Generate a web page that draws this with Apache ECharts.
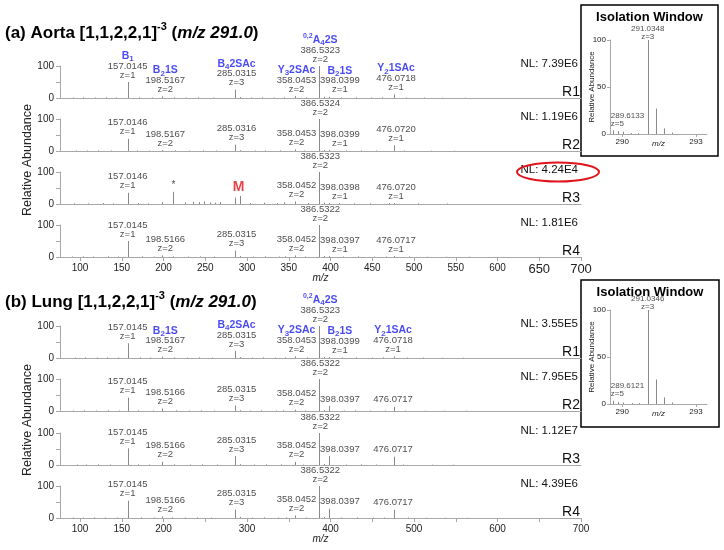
<!DOCTYPE html>
<html>
<head>
<meta charset="utf-8">
<title>[1,1,2,2,1]-3 MS2 spectra</title>
<script src="https://cdn.jsdelivr.net/npm/echarts@6/dist/echarts.min.js"></script>
<style>
  html, body { margin: 0; padding: 0; background: #fff; }
  #chart { width: 724px; height: 550px; }
</style>
</head>
<body>
<div id="chart"></div>
<script>
// tick values of the m/z axes
const mzTicks = [100, 150, 200, 250, 300, 350, 400, 450, 500, 550, 600, 650, 700];
const mzLabelsLung = [100, 150, 200, 300, 400, 500, 600, 700];
const isoTicks = [290, 293];

// labelled peaks: [m/z, relative abundance, charge (null = not printed)]
const aortaR1 = [[157.0145, 50, 1], [198.5167, 5, 2], [285.0315, 26, 3], [358.0453, 6, 2], [386.5323, 100, 2], [398.0399, 4, 1], [476.0718, 11, 1]];
const aortaR2 = [[157.0146, 38, 1], [198.5167, 3, 2], [285.0316, 20, 3], [358.0453, 5, 2], [386.5324, 100, 2], [398.0399, 3, 1], [476.0720, 18, 1]];
const aortaR3 = [[157.0146, 35, 1], [358.0452, 8, 2], [386.5323, 100, 2], [398.0398, 3, 1], [476.0720, 3, 1]];
const aortaR4 = [[157.0145, 50, 1], [198.5166, 5, 2], [285.0315, 20, 3], [358.0452, 5, 2], [386.5322, 100, 2], [398.0397, 3, 1], [476.0717, 3, 1]];
const lungR1 = [[157.0145, 46, 1], [198.5167, 4, 2], [285.0315, 22, 3], [358.0453, 5, 2], [386.5323, 100, 2], [398.0399, 3, 1], [476.0718, 5, 1]];
const lungR2 = [[157.0145, 42, 1], [198.5166, 8, 2], [285.0315, 17, 3], [358.0452, 4, 2], [386.5322, 100, 2], [398.0397, 16, null], [476.0717, 13, null]];
const lungR3 = [[157.0145, 52, 1], [198.5166, 10, 2], [285.0315, 28, 3], [358.0452, 10, 2], [386.5322, 100, 2], [398.0397, 28, null], [476.0717, 26, null]];
const lungR4 = [[157.0145, 54, 1], [198.5166, 5, 2], [285.0315, 26, 3], [358.0452, 8, 2], [386.5322, 100, 2], [398.0397, 29, null], [476.0717, 26, null]];

// fragment names per labelled peak: [superscript, letter, subscript, rest]
const fragsAorta = [['', 'B', '1', ''], ['', 'B', '2', '1S'], ['', 'B', '4', '2SAc'], ['', 'Y', '3', '2SAc'], ['0,2', 'A', '4', '2S'], ['', 'B', '2', '1S'], ['', 'Y', '2', '1SAc']];
const fragsLung = [null, ['', 'B', '2', '1S'], ['', 'B', '4', '2SAc'], ['', 'Y', '3', '2SAc'], ['0,2', 'A', '4', '2S'], ['', 'B', '2', '1S'], ['', 'Y', '2', '1SAc']];

// marked peaks in aorta R3
const aortaR3Marks = [[211.9, 38, '*'], [291.03, 25, 'M']];

// small unlabelled peaks [m/z, relative abundance]
const aortaMinor1 = [[92, 1.5], [104, 2], [118, 1.5], [131, 2], [143, 1.5], [171, 2], [186, 1.5], [212, 2], [227, 1.5], [241, 2], [259, 1.5], [291, 3], [305, 1.5], [318, 2], [332, 1.5], [344, 2], [371, 2], [392, 4], [413, 1.5], [430, 2], [449, 1.5], [462, 2], [491, 1.5], [512, 1.5], [533, 1], [561, 1]];
const aortaMinor2 = [[95, 1.5], [108, 1.5], [121, 2], [137, 1.5], [168, 2], [182, 1.5], [214, 2], [231, 1.5], [247, 2], [263, 1.5], [291, 2.5], [309, 1.5], [322, 2], [340, 2], [368, 1.5], [392, 3], [418, 1.5], [437, 2], [455, 1.5], [488, 1.5], [520, 1], [548, 1]];
const aortaMinor3 = [[93, 2], [110, 2], [127, 3], [140, 2], [170, 3], [181, 2], [198.5, 6], [226, 5], [235, 7], [243, 6], [249, 8], [256, 5], [262, 4], [268, 6], [285.03, 20], [303, 3], [320, 4], [336, 3], [344, 5], [373, 3], [392, 4], [410, 3], [428, 2], [447, 2], [470, 3], [505, 2], [540, 1.5]];
const aortaMinor4 = [[90, 1.5], [103, 2], [116, 1.5], [133, 2], [146, 1.5], [174, 2], [188, 1.5], [211, 2], [229, 1.5], [244, 2], [261, 1.5], [291, 3], [307, 1.5], [321, 2], [338, 1.5], [346, 2], [370, 1.5], [392, 3], [415, 1.5], [433, 2], [452, 1.5], [466, 1.5], [494, 1.5], [515, 1], [538, 1], [566, 1]];
const lungMinor1 = [[94, 1.5], [106, 2], [120, 1.5], [132, 2], [145, 1.5], [172, 2], [184, 1.5], [213, 2], [228, 1.5], [242, 2], [258, 1.5], [291, 3], [306, 1.5], [319, 2], [333, 1.5], [345, 2], [372, 2], [392, 3], [414, 1.5], [431, 2], [450, 1.5], [463, 2], [492, 1.5], [511, 1.5], [534, 1], [559, 1]];
const lungMinor2 = [[91, 1.5], [105, 2], [119, 1.5], [134, 2], [147, 1.5], [170, 2], [187, 1.5], [215, 2], [230, 1.5], [245, 2], [260, 1.5], [291, 2.5], [304, 1.5], [317, 2], [335, 1.5], [343, 2], [369, 1.5], [392, 3], [416, 1.5], [429, 2], [447, 1.5], [465, 1.5], [489, 1.5], [513, 1], [536, 1], [562, 1]];
const lungMinor3 = [[96, 1.5], [107, 1.5], [122, 2], [136, 1.5], [169, 2], [183, 1.5], [212, 2], [232, 1.5], [246, 2], [264, 1.5], [291, 2.5], [308, 1.5], [323, 2], [341, 2], [367, 1.5], [392, 3], [419, 1.5], [436, 2], [454, 1.5], [487, 1.5], [521, 1], [547, 1]];
const lungMinor4 = [[92, 1.5], [104, 1.5], [117, 2], [130, 1.5], [144, 1.5], [173, 2], [189, 1.5], [210, 2], [226, 1.5], [240, 2], [257, 1.5], [291, 3], [306, 1.5], [320, 2], [337, 1.5], [347, 2], [371, 1.5], [392, 3], [412, 1.5], [432, 2], [451, 1.5], [464, 1.5], [493, 1.5], [514, 1], [537, 1], [563, 1]];

// isolation windows
const isoAortaLabelled = [[289.6133, 4, 5], [291.0348, 100, 3]];
const isoAortaMinor = [[289.8133, 3], [290.0133, 2.5], [290.35, 1], [290.62, 1], [291.3681, 27], [291.7015, 6], [292.0348, 1.5]];
const isoLungLabelled = [[289.6121, 3.5, 5], [291.0346, 100, 3]];
const isoLungMinor = [[289.8121, 2], [290.0121, 1.5], [290.4, 1], [290.7, 1], [291.3679, 26], [291.7013, 7], [292.0346, 1.5]];

const nlAorta = ['NL: 7.39E6', 'NL: 1.19E6', 'NL: 4.24E4', 'NL: 1.81E6'];
const nlLung = ['NL: 3.55E5', 'NL: 7.95E5', 'NL: 1.12E7', 'NL: 4.39E6'];
const rowNames = ['R1', 'R2', 'R3', 'R4'];

const SANS = '"Liberation Sans", Arial, sans-serif';
const BLUE = '#1c1cf0';
const RED = '#e0141c';
const axisGrey = '#a8a8a8';
const stickGrey = '#8a8a8a';

const rich = {
  f: { fontFamily: SANS, fontWeight: 'bold', fontSize: 10.5, color: BLUE, lineHeight: 11 },
  sub: { fontFamily: SANS, fontWeight: 'bold', fontSize: 8, color: BLUE, lineHeight: 11, height: 5, verticalAlign: 'bottom' },
  sup: { fontFamily: SANS, fontWeight: 'bold', fontSize: 7, color: BLUE, lineHeight: 11, height: 3, verticalAlign: 'top' },
  m: { fontFamily: SANS, fontSize: 9.5, color: '#1a1a1a', lineHeight: 9 },
  star: { fontFamily: SANS, fontSize: 10, color: '#1a1a1a', lineHeight: 8 },
  red: { fontFamily: SANS, fontWeight: 'bold', fontSize: 14, color: RED, lineHeight: 12 },
  im: { fontFamily: SANS, fontSize: 8, color: '#1a1a1a', lineHeight: 8 }
};

// horizontal nudges of the peak labels (px), by nominal m/z
const shiftAorta = { 157: 0, 198: 3, 285: 2, 358: 1, 386: 1, 398: 11, 476: 2 };
const shiftLung = { 157: 0, 198: 3, 285: 2, 358: 1, 386: 1, 398: 11, 476: -1 };

function fragText(f) {
  if (!f) return '';
  let s = f[0] ? '{sup|' + f[0] + '}' : '';
  s += '{f|' + f[1] + '}{sub|' + f[2] + '}';
  if (f[3]) s += '{f|' + f[3] + '}';
  return s;
}

const grids = [], xAxes = [], yAxes = [], series = [], graphics = [];

function stickSeries(idx, data) {
  return {
    type: 'custom', xAxisIndex: idx, yAxisIndex: idx, silent: true,
    data: data.map(d => [d[0], d[1]]),
    renderItem: (params, api) => {
      const p0 = api.coord([api.value(0), 0]);
      const p1 = api.coord([api.value(0), api.value(1)]);
      const x = Math.round(p0[0]) + 0.5;
      return { type: 'line', shape: { x1: x, y1: p0[1], x2: x, y2: p1[1] }, style: { stroke: stickGrey, lineWidth: 1 } };
    }
  };
}

function labelSeries(idx, items, texts, shifts, align, dist) {
  return {
    type: 'scatter', xAxisIndex: idx, yAxisIndex: idx, silent: true,
    symbolSize: 1, itemStyle: { color: 'rgba(0,0,0,0)' },
    data: items.map((v, i) => ({ value: [v[0], v[1]], label: { offset: [shifts[i] || 0, 0] } })),
    label: {
      show: true, position: 'top', distance: dist == null ? 2 : dist, align: align || 'center',
      formatter: p => texts[p.dataIndex], rich: rich
    }
  };
}

const panels = [
  { rows: [aortaR1, aortaR2, aortaR3, aortaR4], minor: [aortaMinor1, aortaMinor2, aortaMinor3, aortaMinor4],
    frags: fragsAorta, bases: [98, 151, 204, 257], nl: nlAorta, labels: mzTicks, shift: shiftAorta },
  { rows: [lungR1, lungR2, lungR3, lungR4], minor: [lungMinor1, lungMinor2, lungMinor3, lungMinor4],
    frags: fragsLung, bases: [358, 411, 465, 518], nl: nlLung, labels: mzLabelsLung, shift: shiftLung }
];

panels.forEach((pan, pi) => {
  pan.rows.forEach((peaks, ri) => {
    const idx = grids.length;
    const base = pan.bases[ri];
    const last = ri === 3;
    grids.push({ left: 60, width: 521, top: base - 32, height: 32 });
    xAxes.push({
      type: 'value', gridIndex: idx, min: 76, max: 700,
      axisLine: { lineStyle: { color: axisGrey } },
      splitLine: { show: false },
      axisTick: { show: last, length: 4, customValues: mzTicks, lineStyle: { color: axisGrey } },
      axisLabel: {
        show: last, customValues: pan.labels, margin: 6, color: '#222',
        fontFamily: SANS, fontSize: 10,
        formatter: v => (pi === 0 && v >= 650) ? '{big|' + v + '}' : String(v),
        rich: { big: { fontFamily: SANS, fontSize: 13, color: '#222' } }
      },
      name: last ? 'm/z' : '', nameLocation: 'middle', nameGap: 16, nameMoveOverlap: false,
      nameTextStyle: { fontFamily: SANS, fontStyle: 'italic', fontSize: 10, color: '#222' }
    });
    yAxes.push({
      type: 'value', gridIndex: idx, min: 0, max: 100, interval: 50,
      axisLine: { show: true, lineStyle: { color: axisGrey } },
      axisTick: { show: true, length: 4, lineStyle: { color: axisGrey } },
      splitLine: { show: false },
      axisLabel: { margin: 6, color: '#222', fontFamily: SANS, fontSize: 10, formatter: v => v === 50 ? '' : String(v) }
    });

    let all = peaks.concat(pan.minor[ri]);
    if (pi === 0 && ri === 2) all = all.concat(aortaR3Marks);
    series.push(stickSeries(idx, all));

    const texts = peaks.map((p, i) => {
      const lines = [];
      if (ri === 0 && pan.frags[i]) lines.push(fragText(pan.frags[i]));
      lines.push('{m|' + p[0].toFixed(4) + '}');
      if (p[2] != null) lines.push('{m|z=' + p[2] + '}');
      return lines.join('\n');
    });
    const shifts = peaks.map(p => pan.shift[Math.floor(p[0])]);
    series.push(labelSeries(idx, peaks, texts, shifts));
    if (pi === 0 && ri === 2) {
      series.push(labelSeries(idx, aortaR3Marks, aortaR3Marks.map(m => m[2] === 'M' ? '{red|M}' : '{star|*}'), [0, -1]));
    }

    graphics.push({ type: 'text', x: 578, y: base - 34, style: { text: pan.nl[ri], align: 'right', verticalAlign: 'middle', font: '11.5px ' + SANS, fill: '#111' } });
    graphics.push({ type: 'text', x: 580, y: base - 6, style: { text: rowNames[ri], align: 'right', verticalAlign: 'middle', font: '14px ' + SANS, fill: '#111' } });
  });
});

// isolation window insets
const insets = [
  { labelled: isoAortaLabelled, minor: isoAortaMinor, top: 40, box: [581, 5, 137, 151] },
  { labelled: isoLungLabelled, minor: isoLungMinor, top: 310, box: [581, 280, 138, 147] }
];
insets.forEach(ins => {
  const idx = grids.length;
  grids.push({ left: 610, width: 97, top: ins.top, height: 94 });
  xAxes.push({
    type: 'value', gridIndex: idx, min: 289.5, max: 293.45,
    axisLine: { lineStyle: { color: axisGrey } }, splitLine: { show: false },
    axisTick: { length: 3, customValues: isoTicks, lineStyle: { color: axisGrey } },
    axisLabel: { customValues: isoTicks, margin: 4, color: '#222', fontFamily: SANS, fontSize: 8 },
    name: 'm/z', nameLocation: 'middle', nameGap: 6, nameMoveOverlap: false,
    nameTextStyle: { fontFamily: SANS, fontStyle: 'italic', fontSize: 8, color: '#222' }
  });
  yAxes.push({
    type: 'value', gridIndex: idx, min: 0, max: 100, interval: 50,
    axisLine: { show: true, lineStyle: { color: axisGrey } },
    axisTick: { show: true, length: 3, lineStyle: { color: axisGrey } },
    splitLine: { show: false },
    axisLabel: { margin: 4, color: '#222', fontFamily: SANS, fontSize: 8 },
    name: 'Relative Abundance', nameLocation: 'middle', nameGap: 14, nameRotate: 90, nameMoveOverlap: false,
    nameTextStyle: { fontFamily: SANS, fontSize: 8, color: '#222' }
  });
  series.push(stickSeries(idx, ins.labelled.concat(ins.minor)));
  const texts = ins.labelled.map(p => '{im|' + p[0].toFixed(4) + '}\n{im|z=' + p[2] + '}');
  series.push(labelSeries(idx, [ins.labelled[0]], [texts[0]], [-2], 'left'));
  series.push(labelSeries(idx, [ins.labelled[1]], [texts[1]], [0], 'center', -1));
  const b = ins.box;
  graphics.push({ type: 'rect', shape: { x: b[0], y: b[1], width: b[2], height: b[3] }, style: { fill: 'none', stroke: '#000', lineWidth: 1.5 } });
  graphics.push({ type: 'text', x: b[0] + b[2] / 2, y: b[1] + 12, style: { text: 'Isolation Window', align: 'center', verticalAlign: 'middle', font: 'bold 13px ' + SANS, fill: '#000' } });
});

// panel titles
const titleRich = {
  b: { fontFamily: SANS, fontWeight: 'bold', fontSize: 17, color: '#000', lineHeight: 20 },
  s: { fontFamily: SANS, fontWeight: 'bold', fontSize: 11, color: '#000', lineHeight: 20, height: 8, verticalAlign: 'top' },
  bi: { fontFamily: SANS, fontWeight: 'bold', fontStyle: 'italic', fontSize: 17, color: '#000', lineHeight: 20 }
};
graphics.push({ type: 'text', x: 5, y: 33, style: { text: '{b|(a) Aorta [1,1,2,2,1]}{s|-3}{b| (}{bi|m/z 291.0}{b|)}', rich: titleRich, verticalAlign: 'middle' } });
graphics.push({ type: 'text', x: 5, y: 302, style: { text: '{b|(b) Lung [1,1,2,2,1]}{s|-3}{b| (}{bi|m/z 291.0}{b|)}', rich: titleRich, verticalAlign: 'middle' } });

// shared y titles
[160, 420].forEach(cy => {
  graphics.push({ type: 'text', x: 28, y: cy, rotation: Math.PI / 2, style: { text: 'Relative Abundance', align: 'center', verticalAlign: 'middle', font: '12.5px ' + SANS, fill: '#222' } });
});

// red ring around the low NL value
graphics.push({ type: 'ellipse', shape: { cx: 558, cy: 172, rx: 41, ry: 9.5 }, style: { fill: 'none', stroke: RED, lineWidth: 2 } });

const chart = echarts.init(document.getElementById('chart'));
chart.setOption({
  animation: false,
  grid: grids,
  xAxis: xAxes,
  yAxis: yAxes,
  series: series,
  graphic: { elements: graphics }
});
</script>
</body>
</html>
